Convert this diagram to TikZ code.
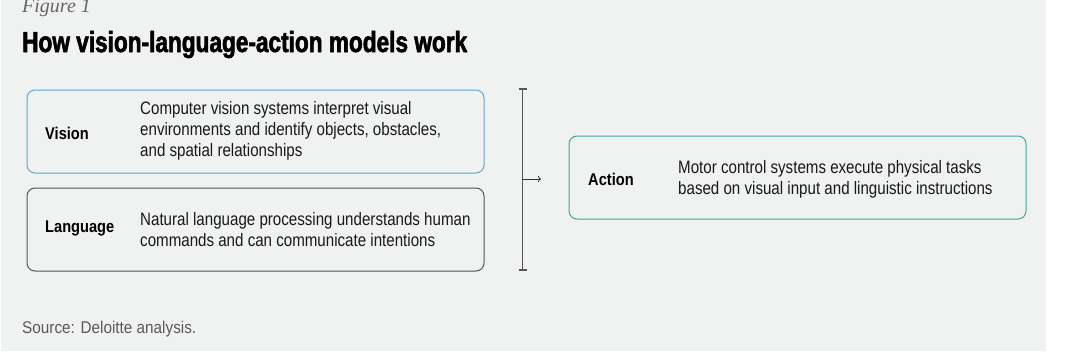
\documentclass[tikz,border=0pt]{standalone}
\usepackage{fontspec}
\usetikzlibrary{arrows.meta}
\setmainfont{Liberation Sans}
\newfontfamily\bodyfont[FakeStretch=0.84]{Liberation Sans}
\newfontfamily\labelfont[FakeStretch=0.86]{Liberation Sans Bold}
\newfontfamily\srcfont[FakeStretch=0.9]{Liberation Sans}
\newfontfamily\titlefont[FakeStretch=0.78,FakeBold=2]{Liberation Sans Bold}
\newfontfamily\figfont{Liberation Serif}
\definecolor{bgc}{HTML}{F0F1F1}
\definecolor{visc}{HTML}{5BA8D2}
\definecolor{actc}{HTML}{3FA8A2}
\definecolor{langc}{HTML}{555555}
\definecolor{srcc}{HTML}{5A5A5A}
\begin{document}
\begin{tikzpicture}[x=1pt,y=-1pt,
  card/.style={draw, line width=1pt, rounded corners=8pt, minimum width=457pt, minimum height=83pt, inner sep=0pt},
  lbl/.style={anchor=west, inner sep=0pt, font=\labelfont\fontsize{17}{21}\selectfont, text=black},
  desc/.style={anchor=west, inner sep=0pt, align=left, font=\bodyfont\fontsize{18}{21}\selectfont, text=black!90}]
\useasboundingbox (0,0) rectangle (1075,354);
\fill[bgc] (1,0) rectangle (1046,351);
\node[anchor=base west, inner sep=0pt, text=black!60, font=\figfont\itshape\fontsize{20}{24}\selectfont] (fig) at (22,12) {Figure 1};
\node[anchor=base west, inner sep=0pt, font=\titlefont\fontsize{29}{32}\selectfont] (title) at (22,52) {How vision-language-action models work};
\node[card, draw=visc] (vision) at (255.5,131.5) {};
\node[card, draw=langc] (language) at (255.5,229.5) {};
\node[card, draw=actc] (action) at (797.5,177.5) {};
\node[lbl] (vl) at (45,133) {Vision};
\node[lbl] (ll) at (45,228) {Language};
\node[lbl] (al) at (588,179) {Action};
\node[desc] (vd) at (140,131) {Computer vision systems interpret visual\\environments and identify objects, obstacles,\\and spatial relationships};
\node[desc] (ld) at (140,230) {Natural language processing understands human\\commands and can communicate intentions};
\node[desc] (ad) at (678,179.5) {Motor control systems execute physical tasks\\based on visual input and linguistic instructions};
\coordinate (btop) at (522.5,89);
\coordinate (bbot) at (522.5,270);
\coordinate (bmid) at (522.5,179);
\coordinate (aend) at (541,179);
\draw[langc, line width=1.2pt] (btop) -- (bbot);
\draw[langc, line width=1.2pt] ([xshift=-4pt]btop) -- ([xshift=4pt]btop);
\draw[langc, line width=1.2pt] ([xshift=-4pt]bbot) -- ([xshift=4pt]bbot);
\draw[black!80, line width=0.8pt, -{To[length=3pt,width=6pt]}] (bmid) -- (aend);
\node[anchor=west, inner sep=0pt, text=srcc, font=\srcfont\fontsize{17}{20}\selectfont] (src) at (22,329) {Source: Deloitte analysis.};
\end{tikzpicture}
\end{document}
